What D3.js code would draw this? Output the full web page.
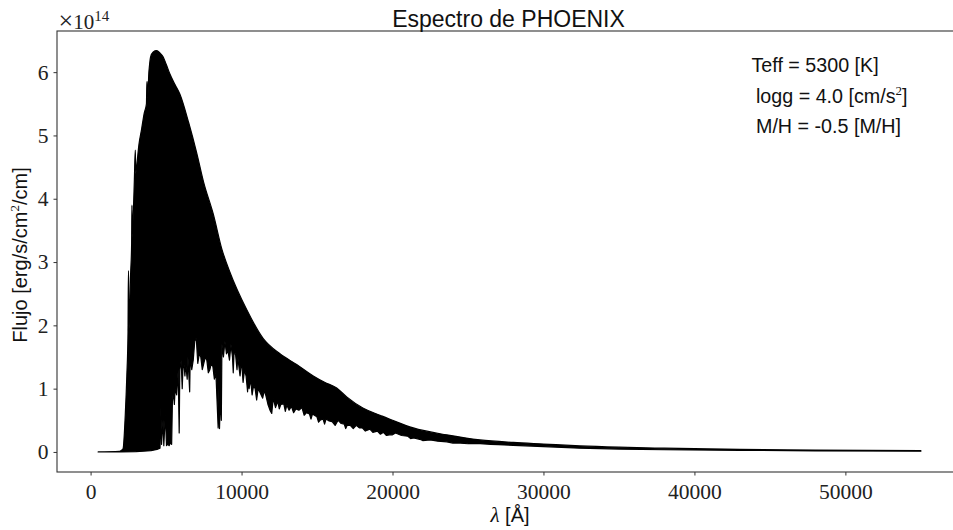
<!DOCTYPE html>
<html>
<head>
<meta charset="utf-8">
<script src="https://cdn.jsdelivr.net/npm/d3@7"></script>
<style>
  html, body { margin: 0; padding: 0; background: #fff; }
  svg { display: block; }
</style>
</head>
<body>
<svg id="chart" width="953" height="530"></svg>
<script>
// ---- Data (flux in units of 1e14 erg/s/cm^2/cm) ----
// Upper envelope of the PHOENIX spectrum (continuum / line peaks)
const upperWave = [500, 1900, 2000, 2150, 2300, 2400, 2480, 2505, 2520, 2540, 2560, 2650, 2720, 2740, 2760, 2820, 2900, 2960, 3000, 3050, 3200, 3380, 3550, 3700, 3730, 3750, 3770, 3800, 3850, 3900, 3976, 4150, 4374, 4600, 4811, 5000, 5255, 5600, 5918, 6500, 7024, 7500, 8125, 8700, 9231, 10338, 11438, 12545, 13651, 14751, 15500, 16302, 16965, 18065, 19172, 20000, 21378, 23592, 25799, 28005, 30000, 32425, 35000, 38000, 43000, 48000, 55000];
const upperFlux = [0, 0.01, 0.02, 0.05, 0.6, 1.2, 1.9, 2.86, 2.86, 1.95, 2.0, 2.8, 3.3, 3.9, 3.4, 3.7, 4.3, 4.77, 4.4, 4.5, 4.85, 5.1, 5.35, 5.5, 5.85, 5.85, 5.6, 5.6, 5.95, 6.1, 6.24, 6.32, 6.34, 6.3, 6.24, 6.13, 5.97, 5.8, 5.65, 5.2, 4.73, 4.25, 3.76, 3.2, 2.84, 2.25, 1.79, 1.55, 1.38, 1.2, 1.1, 1.01, 0.87, 0.69, 0.58, 0.5, 0.38, 0.27, 0.19, 0.15, 0.125, 0.095, 0.075, 0.06, 0.04, 0.03, 0.022];

// Lower envelope (deepest absorption lines)
const lowerWave = [500, 2000, 3000, 4000, 4400, 4600, 4650, 4700, 4800, 4850, 4950, 5030, 5100, 5200, 5300, 5370, 5420, 5480, 5550, 5600, 5700, 5800, 5870, 5910, 6000, 6070, 6100, 6150, 6250, 6300, 6400, 6450, 6563, 6600, 6700, 6800, 6900, 7000, 7100, 7200, 7300, 7400, 7500, 7600, 7700, 7800, 7900, 8000, 8100, 8200, 8300, 8450, 8500, 8540, 8600, 8660, 8700, 8800, 8900, 9000, 9100, 9200, 9300, 9400, 9450, 9500, 9600, 9700, 9750, 9800, 9900, 10000, 10100, 10200, 10300, 10400, 10450, 10500, 10600, 10700, 10800, 10900, 11000, 11100, 11200, 11400, 11500, 11600, 11750, 11900, 12000, 12100, 12250, 12400, 12500, 12600, 12800, 12900, 13000, 13150, 13300, 13450, 13600, 13800, 14000, 14150, 14300, 14500, 14600, 14700, 14900, 15000, 15100, 15200, 15400, 15500, 15600, 15800, 16000, 16200, 16400, 16600, 16800, 16900, 17000, 17200, 17400, 17600, 17800, 18000, 18200, 18500, 18700, 19000, 19200, 19400, 19600, 19800, 20000, 20200, 20600, 21000, 21200, 21400, 21800, 22000, 22500, 23000, 23600, 24000, 24500, 25000, 25800, 26500, 27000, 28000, 30000, 32400, 35000, 38000, 43000, 48000, 55000];
const lowerFlux = [0, 0, 0.005, 0.02, 0.04, 0.06, 0.7, 0.12, 0.5, 0.1, 0.6, 0.1, 0.12, 0.1, 0.15, 0.12, 0.8, 0.95, 0.75, 1.0, 0.9, 1.3, 0.3, 1.3, 1.45, 1.0, 1.2, 1.5, 1.2, 1.4, 1.15, 1.5, 0.95, 1.5, 1.3, 1.45, 1.75, 1.8, 1.4, 1.55, 1.5, 1.3, 1.4, 1.5, 1.45, 1.25, 1.3, 1.4, 1.35, 1.15, 1.25, 0.38, 1.0, 0.37, 0.9, 0.5, 1.7, 1.5, 1.75, 1.55, 1.6, 1.45, 1.7, 1.5, 1.25, 1.55, 1.55, 1.3, 1.5, 1.4, 1.2, 1.45, 1.1, 1.3, 1.2, 0.95, 1.2, 1.0, 1.15, 0.9, 1.05, 1.0, 0.82, 1.0, 0.95, 0.85, 0.97, 0.9, 0.75, 0.65, 0.61, 0.85, 0.7, 0.8, 0.68, 0.75, 0.76, 0.64, 0.74, 0.66, 0.72, 0.62, 0.68, 0.66, 0.7, 0.58, 0.62, 0.6, 0.52, 0.6, 0.57, 0.55, 0.47, 0.5, 0.52, 0.44, 0.52, 0.49, 0.48, 0.42, 0.5, 0.45, 0.44, 0.37, 0.42, 0.42, 0.37, 0.42, 0.38, 0.38, 0.33, 0.36, 0.31, 0.33, 0.28, 0.31, 0.26, 0.27, 0.27, 0.3, 0.26, 0.25, 0.21, 0.22, 0.2, 0.18, 0.19, 0.17, 0.16, 0.14, 0.14, 0.13, 0.13, 0.12, 0.115, 0.105, 0.085, 0.06, 0.045, 0.035, 0.025, 0.018, 0.012];

const xTicks = [0, 10000, 20000, 30000, 40000, 50000];
const yTicks = [0, 1, 2, 3, 4, 5, 6];
const paramLines = ["Teff = 5300 [K]", "logg = 4.0 [cm/s", "M/H = -0.5 [M/H]"];

// ---- Layout ----
const svg = d3.select("#chart");
const mLeft = 57, mRight = 962, mTop = 31, mBottom = 472;

const x = d3.scaleLinear().domain([-2225, 57725]).range([mLeft, mRight]);
const y = d3.scaleLinear().domain([-0.3167, 6.65]).range([mBottom, mTop]);

const serif = "'Liberation Serif', 'DejaVu Serif', serif";
const sans = "'Liberation Sans', Arial, Helvetica, sans-serif";

// clip to axes region
svg.append("clipPath").attr("id", "clip")
  .append("rect").attr("x", mLeft).attr("y", mTop).attr("width", mRight - mLeft).attr("height", mBottom - mTop);

// spectrum polygon: upper envelope (smooth) forward, lower envelope (jagged) backward
const upperPts = upperWave.map((w, i) => [w, upperFlux[i]]);
const lowerPts = lowerWave.map((w, i) => [w, lowerFlux[i]]).reverse();
const upperLine = d3.line().x(d => x(d[0])).y(d => y(d[1])).curve(d3.curveMonotoneX);
const lowerLine = d3.line().x(d => x(d[0])).y(d => y(d[1]));
const dPath = upperLine(upperPts) + "L" + lowerLine(lowerPts).slice(1) + "Z";
svg.append("path")
  .attr("clip-path", "url(#clip)")
  .attr("d", dPath)
  .attr("fill", "#000")
  .attr("stroke", "#000")
  .attr("stroke-width", 1.2)
  .attr("stroke-linejoin", "round");

// axes
const xAxis = d3.axisBottom(x).tickValues(xTicks).tickSize(3.5).tickPadding(8).tickFormat(d3.format("d"));
const gx = svg.append("g").attr("transform", `translate(0,${mBottom})`).call(xAxis);
const yAxis = d3.axisLeft(y).tickValues(yTicks).tickSize(3.5).tickPadding(5).tickFormat(d3.format("d"));
const gy = svg.append("g").attr("transform", `translate(${mLeft},0)`).call(yAxis);

[gx, gy].forEach(g => {
  g.select(".domain").remove();
  g.selectAll(".tick line").attr("stroke", "#333").attr("stroke-width", 1);
  g.selectAll(".tick text").attr("font-family", serif).attr("font-size", 21.5).attr("fill", "#222");
});
gx.selectAll(".tick text").attr("dy", "0.71em");

// spines
svg.append("rect")
  .attr("x", mLeft).attr("y", mTop)
  .attr("width", mRight - mLeft).attr("height", mBottom - mTop)
  .attr("fill", "none").attr("stroke", "#333").attr("stroke-width", 1.1);

// x10^14 offset label
const off = svg.append("text").attr("x", 58.5).attr("y", 28.5)
  .attr("font-family", serif).attr("font-size", 21).attr("fill", "#222");
off.append("tspan").attr("font-size", 26).text("×");
off.append("tspan").text("10");
off.append("tspan").attr("font-size", 15).attr("dy", -8).text("14");

// title
svg.append("text").attr("x", (mLeft + mRight) / 2 - 1).attr("y", 26.5)
  .attr("text-anchor", "middle").attr("font-family", sans).attr("font-size", 23)
  .attr("fill", "#111").text("Espectro de PHOENIX");

// x label
const xl = svg.append("text").attr("x", 510).attr("y", 521.5)
  .attr("text-anchor", "middle").attr("font-size", 20).attr("fill", "#111");
xl.append("tspan").attr("font-family", serif).attr("font-style", "italic").attr("font-size", 21).text("λ");
xl.append("tspan").attr("font-family", sans).text(" [Å]");

// y label
const yl = svg.append("text")
  .attr("transform", "translate(27,255) rotate(-90)")
  .attr("text-anchor", "middle").attr("font-family", sans).attr("font-size", 20).attr("fill", "#111");
yl.append("tspan").text("Flujo [erg/s/cm");
yl.append("tspan").attr("font-family", serif).attr("font-size", 13).attr("dy", -8).text("2");
yl.append("tspan").attr("dy", 8).text("/cm]");

// parameter annotations
const px = [751.5, 756, 756], pyb = [72.3, 103.3, 133.3];
paramLines.forEach((t, i) => {
  const tx = svg.append("text").attr("x", px[i]).attr("y", pyb[i])
    .attr("font-family", sans).attr("font-size", 19.7).attr("fill", "#111");
  tx.append("tspan").text(t);
  if (i === 1) {
    tx.append("tspan").attr("font-family", serif).attr("font-size", 13).attr("dy", -8).text("2");
    tx.append("tspan").attr("dy", 8).text("]");
  }
});
</script>
</body>
</html>
